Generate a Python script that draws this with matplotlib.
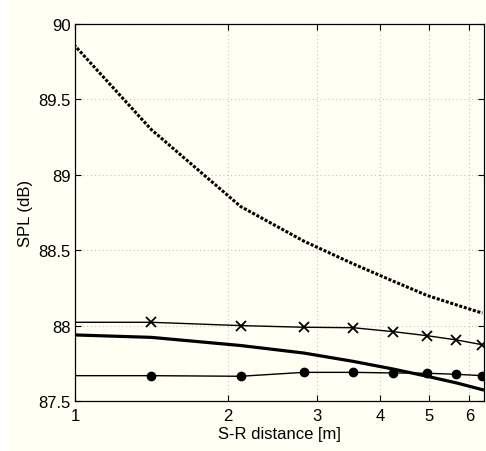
import matplotlib
matplotlib.use("Agg")
import matplotlib.pyplot as plt
import numpy as np
from matplotlib.patches import Rectangle
from matplotlib.ticker import FixedLocator, FormatStrFormatter, NullLocator

# source-receiver distances (k * sqrt(2)/2, first point falls left of the axis)
dist = [0.7071, 1.4142, 2.1213, 2.8284, 3.5355, 4.2426, 4.9497, 5.6569, 6.3640]

spl_dotted = [90.41, 89.30, 88.79, 88.56, 88.41, 88.295, 88.20, 88.137, 88.083]
spl_cross = [88.022, 88.022, 88.000, 87.989, 87.986, 87.960, 87.933, 87.905, 87.873]
spl_thick = [87.954, 87.922, 87.868, 87.818, 87.763, 87.712, 87.664, 87.620, 87.575]
spl_dot = [87.668, 87.668, 87.664, 87.690, 87.690, 87.686, 87.684, 87.677, 87.668]

xticks = [1, 2, 3, 4, 5, 6]
yticks = [87.5, 88, 88.5, 89, 89.5, 90]

bg = "#fffff4"
plt.rcParams["font.family"] = ["Liberation Sans", "DejaVu Sans"]

fig = plt.figure(figsize=(4.86, 4.52), dpi=100, facecolor="white")
fig.patches.append(Rectangle((8 / 486, 0), 1, 1, transform=fig.transFigure,
                             facecolor=bg, edgecolor="none", zorder=-10))
ax = fig.add_axes([75 / 486, 50 / 452, 409 / 486, 377 / 452])
ax.set_facecolor(bg)

ax.plot(dist, spl_dotted, color="black", lw=2.2, linestyle=(0, (1, 0.55)))
ax.plot(dist, spl_cross, color="black", lw=1.0, marker="x", ms=7, mew=1.3)
ax.plot(dist, spl_thick, color="black", lw=2.3)
ax.plot(dist, spl_dot, color="black", lw=1.0, marker="o", ms=6)

ax.set_xscale("log")
ax.set_xlim(1, 6.41)
ax.set_ylim(87.5, 90)
ax.xaxis.set_major_locator(FixedLocator(xticks))
ax.xaxis.set_minor_locator(NullLocator())
ax.xaxis.set_major_formatter(FormatStrFormatter("%g"))
ax.yaxis.set_major_locator(FixedLocator(yticks))
ax.yaxis.set_major_formatter(FormatStrFormatter("%g"))

ax.grid(True, color="#c4c4c4", linestyle=(0, (1, 2.5)), lw=0.8)
ax.tick_params(direction="in", top=True, right=True, length=4, width=0.8,
               labelsize=12)
ax.tick_params(axis="x", pad=5)
ax.tick_params(axis="y", pad=3)
for s in ax.spines.values():
    s.set_linewidth(0.9)

ax.set_xlabel("S-R distance [m]", fontsize=12, labelpad=2)
ax.set_ylabel("SPL (dB)", fontsize=12, labelpad=4)

fig.savefig("out.png", dpi=100, facecolor=fig.get_facecolor())
